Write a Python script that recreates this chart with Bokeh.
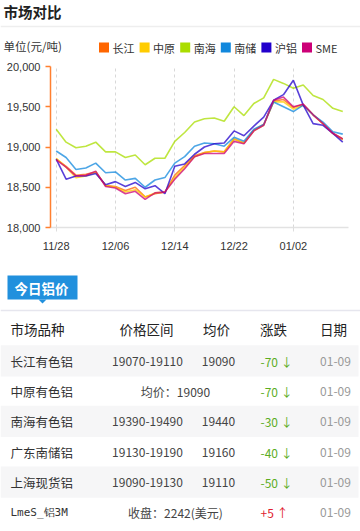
from bokeh.plotting import figure
from bokeh.models import Range1d, NumeralTickFormatter, ColumnDataSource
from bokeh.core.properties import value
from bokeh.embed import file_html
from bokeh.resources import INLINE

# ---------------- data ----------------
dates = ["11/28", "11/29", "11/30", "12/01", "12/04", "12/05", "12/06", "12/07", "12/08", "12/11",
         "12/12", "12/13", "12/14", "12/15", "12/18", "12/19", "12/20", "12/21", "12/22", "12/25",
         "12/26", "12/27", "12/28", "12/29", "01/02", "01/03", "01/04", "01/05", "01/08", "01/09"]

changjiang = [18850, 18760, 18650, 18660, 18690, 18520, 18510, 18460, 18500, 18380,
              18420, 18440, 18650, 18770, 18890, 18930, 18950, 18940, 19100, 19050,
              19210, 19280, 19570, 19590, 19490, 19530, 19400, 19290, 19170, 19100]
zhongyuan = [18860, 18750, 18620, 18640, 18690, 18520, 18500, 18440, 18470, 18380,
             18430, 18440, 18620, 18750, 18880, 18930, 18950, 18940, 19100, 19050,
             19200, 19270, 19560, 19560, 19470, 19520, 19400, 19290, 19170, 19090]
nanhai = [19220, 19060, 18990, 19010, 19060, 18940, 18940, 18870, 18900, 18780,
          18860, 18860, 19070, 19180, 19310, 19350, 19360, 19320, 19500, 19390,
          19540, 19610, 19840, 19790, 19730, 19770, 19640, 19590, 19480, 19440]
nanchu = [18950, 18870, 18720, 18740, 18800, 18680, 18690, 18590, 18610, 18500,
          18590, 18620, 18800, 18880, 19010, 19050, 19040, 19010, 19120, 19070,
          19220, 19280, 19560, 19500, 19440, 19520, 19400, 19310, 19190, 19160]
hulv = [18850, 18600, 18640, 18640, 18670, 18530, 18570, 18510, 18560, 18480,
        18520, 18420, 18760, 18790, 18910, 19000, 19040, 19050, 19200, 19140,
        19260, 19370, 19580, 19650, 19830, 19520, 19290, 19270, 19170, 19060]
sme = [18840, 18750, 18640, 18650, 18700, 18510, 18490, 18420, 18450, 18350,
       18430, 18440, 18600, 18730, 18880, 18920, 18920, 18920, 19070, 19040,
       19200, 19270, 19580, 19620, 19500, 19530, 19400, 19290, 19170, 19100]

series_names = ["长江", "中原", "南海", "南储", "沪铝", "SME"]
series_values = [changjiang, zhongyuan, nanhai, nanchu, hulv, sme]
series_colors = ["#FF6600", "#FFCC00", "#AADD00", "#1188DD", "#2200CC", "#CC0077"]

x_tick_index = [0, 6, 12, 18, 24]
y_ticks = [18000, 18500, 19000, 19500, 20000]

table_headers = ["市场品种", "价格区间", "均价", "涨跌", "日期"]
markets = ["长江有色铝", "中原有色铝", "南海有色铝", "广东南储铝", "上海现货铝", "LmeS_铝3M"]
price_ranges = ["19070-19110", "", "19390-19490", "19130-19190", "19090-19130", ""]
avg_prices = ["19090", "", "19440", "19160", "19110", ""]
merged_notes = ["", "均价：19090", "", "", "", "收盘：2242(美元)"]
changes = [-70, -70, -30, -40, -50, 5]
table_dates = ["01-09", "01-09", "01-09", "01-09", "01-09", "01-09"]

# ---------------- layout geometry (canvas pixels) ----------------
W, H = 360, 531
CL, CR, CT, CB = 50, 348, 66, 227          # chart frame box inside the canvas
XA, XB = -0.577, 29.58                     # chart x extent (index units)
YA, YB = 18000, 20000                      # chart y extent
sx = (XB - XA) / (CR - CL)
sy = (YB - YA) / (CB - CT)
X0, X1 = XA - CL * sx, XB + (W - CR) * sx
Y0, Y1 = YA - (H - CB) * sy, YB + CT * sy

CJK = value("Noto Sans CJK SC")

p = figure(width=W, height=H, x_range=Range1d(X0, X1), y_range=Range1d(Y0, Y1),
           extra_x_ranges={"px": Range1d(0, W)}, extra_y_ranges={"py": Range1d(H, 0)},
           output_backend="svg", toolbar_location=None, min_border=0)
p.outline_line_color = None
PX = dict(x_range_name="px", y_range_name="py")

# ---------------- chart lines ----------------
idx = list(range(len(dates)))
for vals, col in zip(series_values, series_colors):
    p.line(x=idx, y=vals, line_color=col, line_alpha=0.75, line_width=1.6)

# axes placed at the chart box
p.yaxis.fixed_location = XA
p.yaxis.bounds = (YA, YB)
p.yaxis.ticker = y_ticks
p.yaxis.formatter = NumeralTickFormatter(format="0,0")
p.yaxis.axis_line_color = "#FF8030"
p.yaxis.axis_line_width = 1.5
p.yaxis.major_tick_line_color = "#FF8030"
p.yaxis.major_tick_line_width = 1.5
p.yaxis.major_tick_out = 5
p.yaxis.major_tick_in = 0
p.yaxis.minor_tick_line_color = None
p.yaxis.major_label_standoff = 5
p.yaxis.major_label_text_font = "Liberation Sans"
p.yaxis.major_label_text_font_size = "11px"
p.yaxis.major_label_text_color = "#333333"

p.xaxis.fixed_location = YA
p.xaxis.bounds = (XA, XB)
p.xaxis.ticker = x_tick_index
p.xaxis.major_label_overrides = {i: dates[i] for i in x_tick_index}
p.xaxis.axis_line_color = "#e2e2e2"
p.xaxis.axis_line_width = 1.5
p.xaxis.major_tick_line_color = "#dddddd"
p.xaxis.major_tick_out = 4
p.xaxis.major_tick_in = 0
p.xaxis.minor_tick_line_color = None
p.xaxis.major_label_standoff = 8
p.xaxis.major_label_text_font = "Liberation Sans"
p.xaxis.major_label_text_font_size = "11px"
p.xaxis.major_label_text_color = "#333333"

p.xgrid.grid_line_color = "#d8d8d8"
p.xgrid.grid_line_dash = "3 3"
p.xgrid.bounds = (XA, XB)
p.xgrid.cross_bounds = (YA, YB)
p.ygrid.visible = False

# ---------------- header ----------------
p.text(x=[3], y=[10.5], text=["市场对比"], text_font=CJK, text_font_size="14.5px",
       text_font_style="bold", text_color="#222222", text_baseline="middle", **PX)
p.segment(x0=[0], y0=[26], x1=[W], y1=[26], line_color="#eeeeee", line_width=1.5, **PX)
p.text(x=[3], y=[45.5], text=["单位(元/吨)"], text_font=CJK, text_font_size="11.5px",
       text_color="#333333", text_baseline="middle", **PX)
leg_x0, leg_step = 103.5, 40.6
leg_src = ColumnDataSource(dict(
    x=[leg_x0 + i * leg_step for i in range(len(series_names))],
    tx=[leg_x0 + 8.5 + i * leg_step for i in range(len(series_names))],
    y=[47] * len(series_names),
    name=series_names, color=series_colors))
p.scatter(x="x", y="y", marker="square", size=10, fill_color="color", line_color=None,
          source=leg_src, **PX)
p.text(x="tx", y="y", text="name", text_font=CJK, text_font_size="11px", text_color="#333333",
       text_baseline="middle", source=leg_src, **PX)

# ---------------- table ----------------
p.quad(left=[7], right=[77], top=[275], bottom=[299], fill_color="#2190DD",
       line_color=None, **PX)
p.patch(x=[38, 46, 42], y=[299, 299, 303], fill_color="#2190DD", line_color=None, **PX)
p.text(x=[41], y=[287.5], text=["今日铝价"], text_font=CJK, text_font_size="13.5px",
       text_font_style="bold", text_color="white", text_align="center", text_baseline="middle", **PX)
p.segment(x0=[0], y0=[310], x1=[W], y1=[310], line_color="#e6e6ee", line_width=1.5, **PX)

hx = [10, 146, 216, 273, 333]
ha = ["left", "center", "center", "center", "center"]
p.text(x=hx, y=[328] * 5, text=table_headers, text_align=ha, text_font=CJK,
       text_font_size="13.5px", text_color="#222222", text_baseline="middle", **PX)

row0, pitch = 360.7, 30.3
rows_y = [row0 + i * pitch for i in range(len(markets))]
for i, yy in enumerate(rows_y):
    if i % 2 == 0:
        p.quad(left=[0], right=[358], top=[yy - 16], bottom=[yy + 15.3], fill_color="#f6f6f7",
               line_color=None, **PX)

for i, yy in enumerate(rows_y):
    is_lme = markets[i].startswith("Lme")
    p.text(x=[10], y=[yy], text=[markets[i]],
           text_font=value("DejaVu Sans Mono") if is_lme else CJK,
           text_font_size="11px" if is_lme else "12.5px",
           text_color="#333333", text_baseline="middle", **PX)
    if merged_notes[i]:
        p.text(x=[175], y=[yy], text=[merged_notes[i]], text_font=CJK, text_font_size="12px",
               text_color="#444444", text_align="center", text_baseline="middle", **PX)
    else:
        p.text(x=[147, 218], y=[yy, yy], text=[price_ranges[i], avg_prices[i]], text_font=CJK,
               text_font_size="12px", text_color="#444444", text_align="center",
               text_baseline="middle", **PX)
    c = changes[i]
    ctext = f"{c:+d} " + ("↓" if c < 0 else "↑")
    p.text(x=[260], y=[yy], text=[ctext], text_font=CJK, text_font_size="12px",
           text_color="#5CAD1F" if c < 0 else "#E0202E", text_baseline="middle", **PX)
    p.text(x=[335], y=[yy], text=[table_dates[i]], text_font=CJK, text_font_size="12px",
           text_color="#999999", text_align="center", text_baseline="middle", **PX)

open("out.html", "w").write(file_html(p, INLINE))
